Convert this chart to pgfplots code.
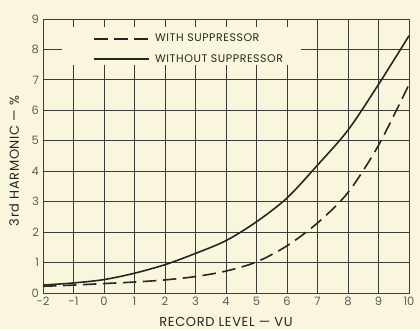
\documentclass[border=0pt]{standalone}
\usepackage{fontspec}
\setmainfont{Poppins}
\usepackage{pgfplots}
\pgfplotsset{compat=1.18}
\definecolor{bg}{RGB}{250,246,222}
\definecolor{ink}{RGB}{38,38,36}
\definecolor{gridc}{RGB}{60,60,56}
\begin{document}
\begin{tikzpicture}[x=1pt,y=1pt]
\fill[bg] (0,0) rectangle (420,329);
\begin{axis}[
  at={(43pt,36pt)}, anchor=south west,
  scale only axis, width=366pt, height=274pt,
  xmin=-2, xmax=10, ymin=0, ymax=9,
  xtick={-2,...,10}, ytick={0,...,9},
  grid=major, major grid style={gridc, line width=0.8pt},
  axis line style={gridc, line width=0.9pt},
  major tick length=0pt,
  /pgf/number format/assume math mode=true,
  tick label style={font=\fontsize{11.5}{13}\selectfont, text=ink!75},
  xticklabel style={yshift=-0.5pt},
  yticklabel style={xshift=-0.5pt},
  xlabel={RECORD LEVEL — VU},
  ylabel={3rd HARMONIC — \%},
  label style={font=\fontsize{13}{15}\selectfont\addfontfeatures{LetterSpace=5}, text=ink},
  xlabel style={at={(axis description cs:0.5,-0.106)}, anchor=center},
  ylabel style={at={(axis description cs:-0.079,0.482)}, anchor=center, rotate=0},
  legend style={at={(axis description cs:0.137,0.953)}, anchor=north west,
    draw=none, fill=none, inner sep=0pt, row sep=7pt,
    font=\fontsize{11}{13}\selectfont\addfontfeatures{LetterSpace=5}, text=ink, column sep=3pt},
  legend cell align=left,
  legend image code/.code={\draw[#1, line width=1.8pt] (0pt,0pt) -- (55pt,0pt);},
]
\fill[bg] (axis cs:-1.375,7.5) rectangle (axis cs:6.45,8.75);
\addplot[ink, line width=1.6pt, dash pattern=on 13.5pt off 6.5pt, smooth] coordinates {
(-2,0.22) (-1,0.26) (0,0.31) (1,0.36) (2,0.43) (3,0.54) (4,0.72) (5,1.02) (6,1.55) (7,2.3) (8,3.3) (9,4.85) (10,6.85)};
\addlegendentry{WITH SUPPRESSOR}
\addplot[ink, line width=1.6pt, smooth] coordinates {
(-2,0.26) (-1,0.33) (0,0.44) (1,0.65) (2,0.93) (3,1.3) (4,1.72) (5,2.34) (6,3.12) (7,4.2) (8,5.35) (9,6.85) (10,8.45)};
\addlegendentry{WITHOUT SUPPRESSOR}
\end{axis}
\path[use as bounding box] (0,0) rectangle (420,329);
\end{tikzpicture}
\end{document}
